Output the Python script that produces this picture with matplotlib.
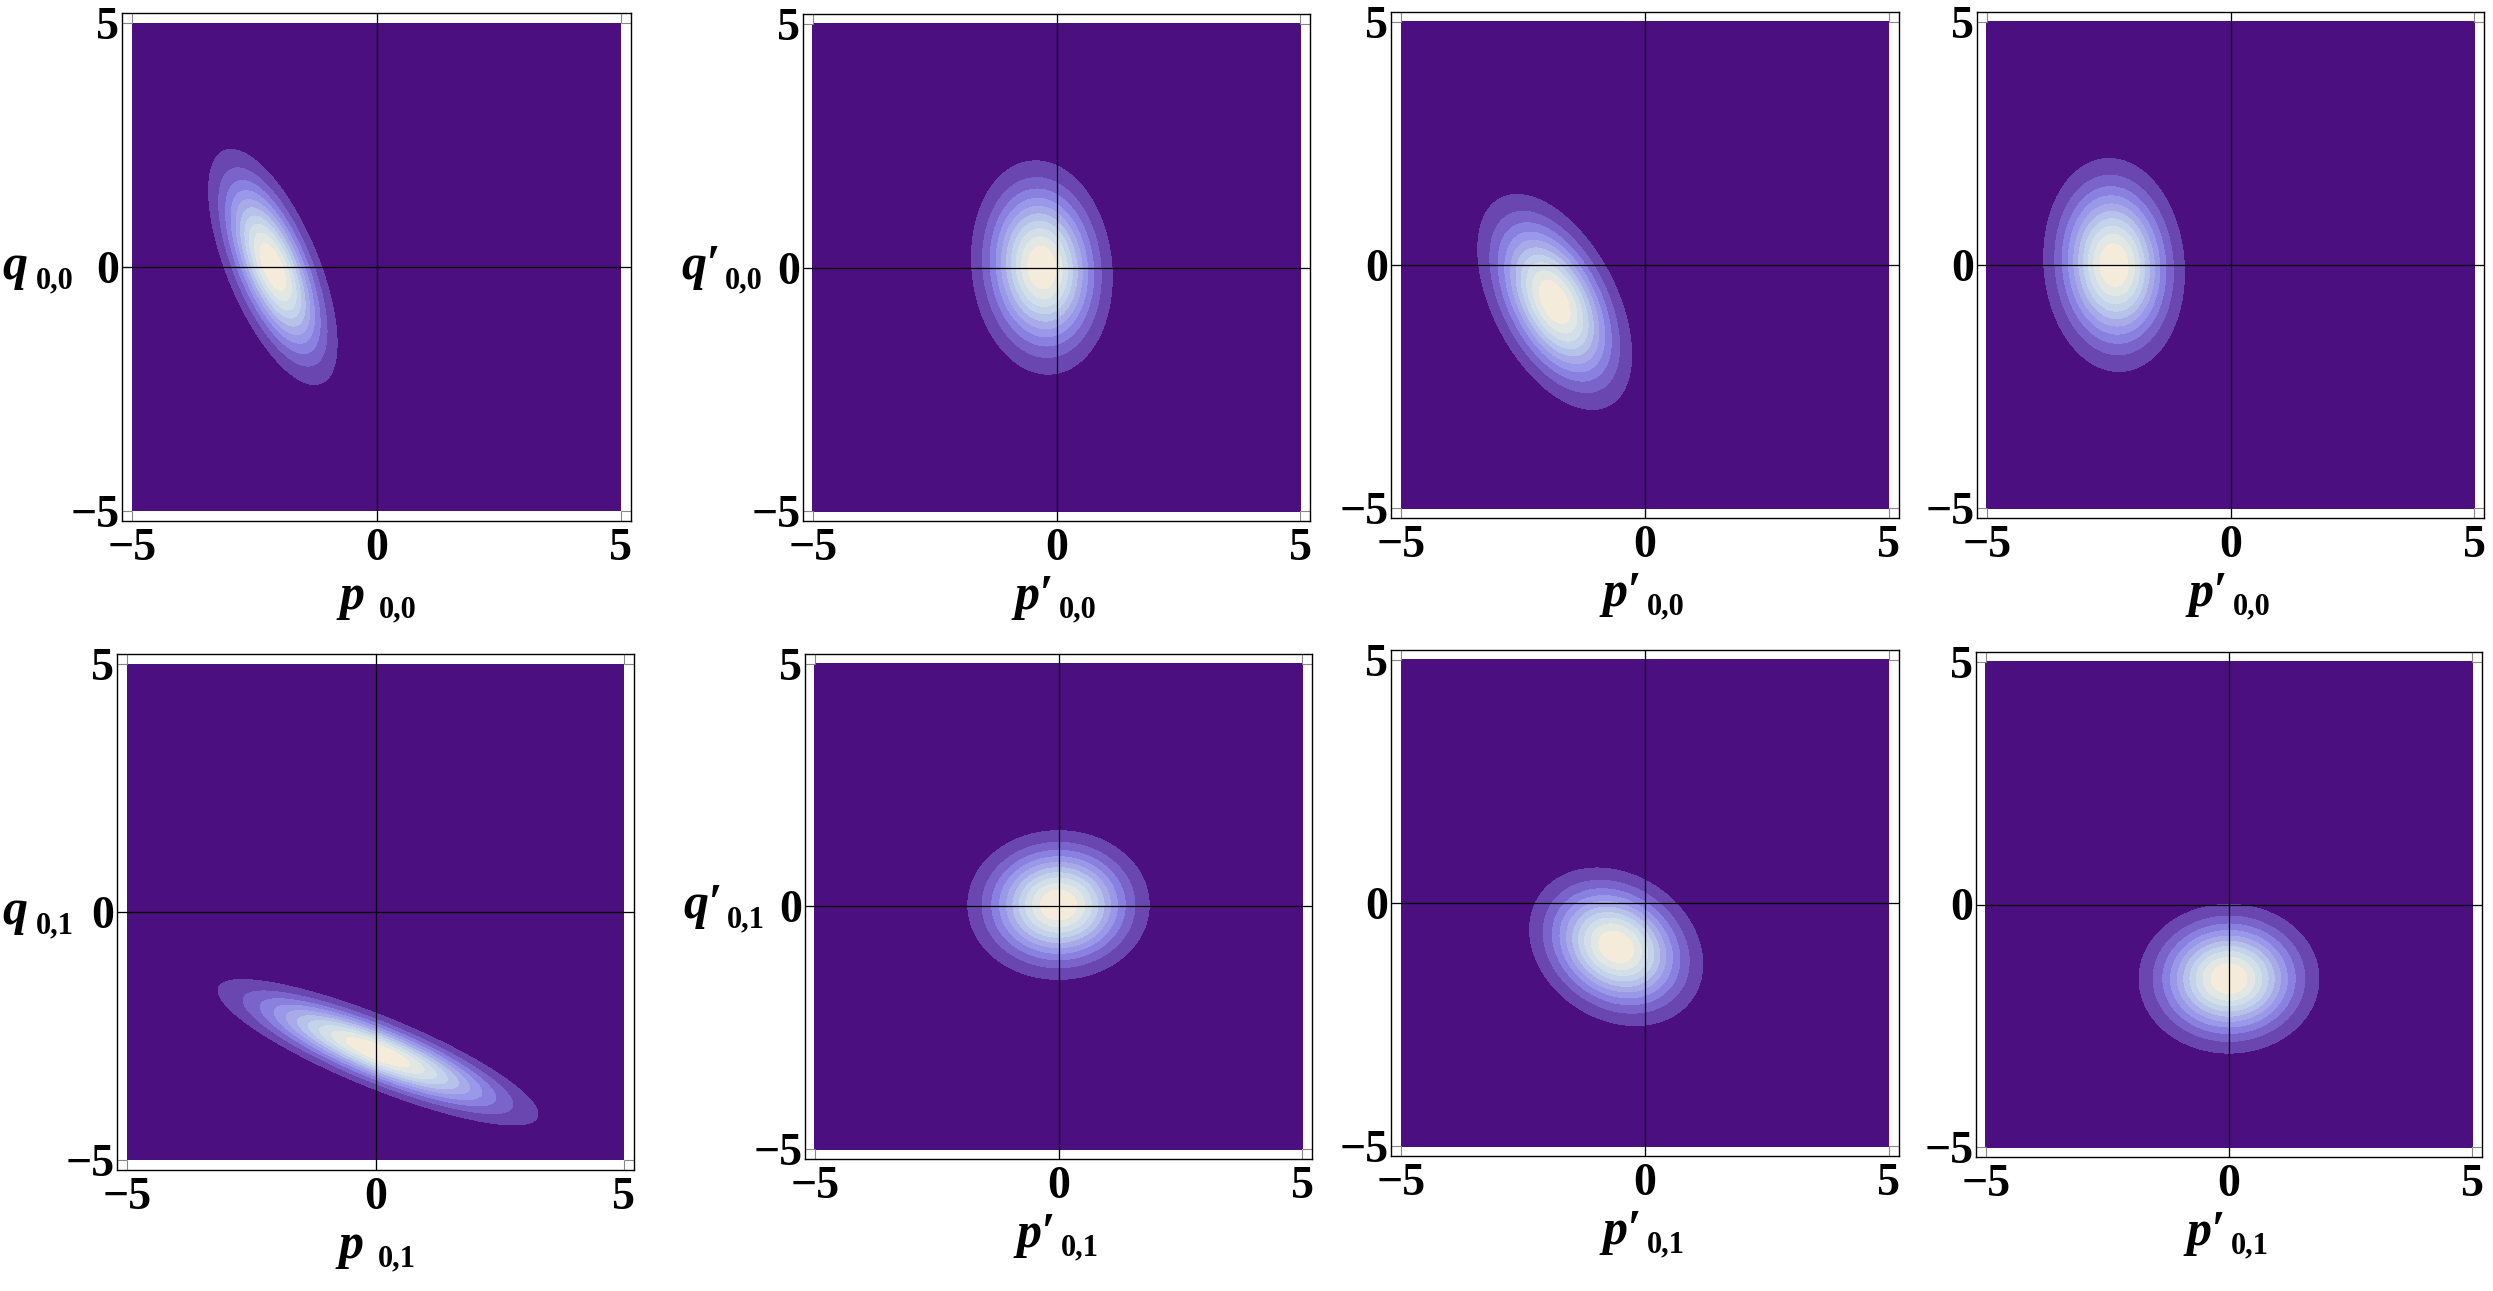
import matplotlib
matplotlib.use("Agg")
import matplotlib.pyplot as plt
import numpy as np

# peak position and spread of each wavefunction density
p_center = [-2.12, -0.30, -1.85, -2.39, 0.05, 0.00, -0.59, 0.00]
q_center = [0.00, 0.00, -0.76, 0.00, -2.83, 0.03, -0.90, -1.53]
p_sigma = [0.60, 0.66, 0.72, 0.66, 1.47, 0.85, 0.81, 0.845]
q_sigma = [1.10, 1.00, 1.01, 1.00, 0.67, 0.70, 0.74, 0.70]
corr = [-0.65, -0.09, -0.49, -0.07, -0.85, 0.00, -0.22, 0.00]

x_names = ["p", "p′", "p′", "p′", "p", "p′", "p′", "p′"]
y_names = ["q", "q′", None, None, "q", "q′", None, None]
subs = ["0,0", "0,0", "0,0", "0,0", "0,1", "0,1", "0,1", "0,1"]

tick_vals = [-5, 0, 5]
tick_text = ["−5", "0", "5"]

band_colors = ["#4b0f80", "#6a46b0", "#7a64cc", "#8a80e0", "#9a98e8", "#a9abe9",
               "#b7c2ea", "#c4d3ea", "#d2dfe9", "#e3e7e3", "#f4ebda"]

W, H = 2493, 1291
# frame boxes in pixels: left, top, right, bottom
frames = [(122, 13, 631, 521), (803, 14, 1310, 521), (1391, 12, 1899, 518), (1977, 12, 2484, 518),
          (117, 654, 634, 1170), (805, 654, 1312, 1159), (1391, 650, 1899, 1156), (1976, 652, 2482, 1157)]

serif = ["Liberation Serif", "DejaVu Serif"]

fig = plt.figure(figsize=(W / 100, H / 100), dpi=100)

g = np.linspace(-5, 5, 400)
P, Q = np.meshgrid(g, g)
levels = np.linspace(0, 1, 12)
levels[-1] = 1.001

for i in range(8):
    x0, y0, x1, y1 = frames[i]
    ax = fig.add_axes([x0 / W, 1 - y1 / H, (x1 - x0) / W, (y1 - y0) / H])

    dp = (P - p_center[i]) / p_sigma[i]
    dq = (Q - q_center[i]) / q_sigma[i]
    r = corr[i]
    Z = np.exp(-(dp**2 - 2 * r * dp * dq + dq**2) / (2 * (1 - r**2)))
    ax.contourf(P, Q, Z, levels=levels, colors=band_colors, antialiased=False)

    ax.axhline(0, color="black", lw=0.9)
    ax.axvline(0, color="black", lw=0.9)
    ax.set_xlim(-5.205, 5.205)
    ax.set_ylim(-5.205, 5.205)
    ax.set_xticks(tick_vals)
    ax.set_yticks(tick_vals)
    ax.set_xticklabels(tick_text)
    ax.set_yticklabels(tick_text)
    for s in ax.spines.values():
        s.set_linewidth(1.0)
    ax.tick_params(direction="in", length=7, width=0.8, color="#888888",
                   top=True, right=True, labelsize=33)
    ax.tick_params(axis="x", pad=5)
    ax.tick_params(axis="y", pad=2)
    for lab in ax.get_xticklabels() + ax.get_yticklabels():
        lab.set_family(serif)
        lab.set_fontweight("bold")

    prime = "′" in x_names[i]
    ax.annotate(x_names[i], xy=(0.5, 0), xycoords="axes fraction",
                xytext=(-3 if prime else -12, -88), textcoords="offset pixels",
                ha="right", va="baseline", fontsize=36, fontweight="bold",
                fontstyle="italic", family=serif)
    ax.annotate(subs[i], xy=(0.5, 0), xycoords="axes fraction",
                xytext=(2, -96), textcoords="offset pixels",
                ha="left", va="baseline", fontsize=22, fontweight="bold", family=serif)

    if y_names[i]:
        prime = "′" in y_names[i]
        lx = -min(122, x0 - 2)
        ax.annotate(y_names[i], xy=(0, 0.5), xycoords="axes fraction",
                    xytext=(lx, -12), textcoords="offset pixels",
                    ha="left", va="baseline", fontsize=36, fontweight="bold",
                    fontstyle="italic", family=serif)
        ax.annotate(subs[i], xy=(0, 0.5), xycoords="axes fraction",
                    xytext=(lx + (44 if prime else 34), -21), textcoords="offset pixels",
                    ha="left", va="baseline", fontsize=22, fontweight="bold", family=serif)

fig.savefig("out.png", dpi=100)
